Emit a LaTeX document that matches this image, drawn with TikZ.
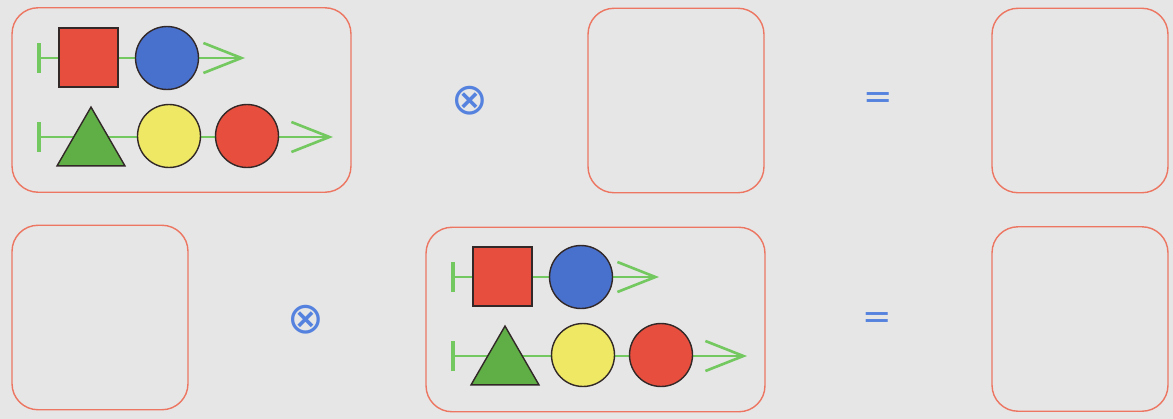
\documentclass[tikz,border=0pt]{standalone}
\usepackage{fontspec}
\usepackage{xcolor}
\usetikzlibrary{arrows.meta}
\usetikzlibrary{shapes.geometric}
\newfontfamily\symfont{DejaVu Sans}
\definecolor{bggray}{RGB}{230,230,230}
\definecolor{framered}{RGB}{236,118,98}
\definecolor{myred}{RGB}{232,78,62}
\definecolor{myblue}{RGB}{72,112,205}
\definecolor{myyellow}{RGB}{238,232,100}
\definecolor{mygreen}{RGB}{95,175,70}
\definecolor{linegreen}{RGB}{115,200,95}
\definecolor{outline}{RGB}{50,40,40}
\definecolor{symblue}{RGB}{84,130,222}

\tikzset{
  frame/.style={draw=framered, line width=0.8pt, rounded corners=0.52cm, inner sep=0pt},
  bigframe/.style={frame, minimum width=6.78cm, minimum height=3.69cm},
  smallframe/.style={frame, minimum width=3.52cm, minimum height=3.69cm},
  disc/.style={circle, draw=outline, line width=0.8pt, minimum size=1.26cm, inner sep=0pt},
  sqbox/.style={rectangle, draw=outline, line width=0.8pt, minimum size=1.18cm, inner sep=0pt},
  tri/.style={regular polygon, regular polygon sides=3, draw=outline, line width=0.8pt,
    fill=mygreen, minimum size=1.57cm, inner sep=0pt},
  chainline/.style={draw=linegreen, line width=1.5pt,
    {Bar[width=0.6cm, line width=2.3pt]}-{Straight Barb[length=0.76cm, width=0.6cm]}},
  symb/.style={text=symblue, inner sep=0pt},
  times/.style={symb, font=\symfont\fontsize{25}{30}\selectfont},
  equal/.style={symb, font=\symfont\fontsize{20}{24}\selectfont},
  % two chains of shapes, used in both product boxes
  chains/.pic={
    \coordinate (-s1) at (37,58);
    \coordinate (-t1) at (245,58);
    \coordinate (-s2) at (37,137);
    \coordinate (-t2) at (333,137);
    \draw[chainline] (-s1) -- (-t1);
    \draw[chainline] (-s2) -- (-t2);
    \node[sqbox, fill=myred] (-sq) at (88.5,57.5) {};
    \node[disc, fill=myblue] (-bc) at (167,58) {};
    \node[tri] (-tr) at (91,146.3) {};
    \node[disc, fill=myyellow] (-yc) at (169,136) {};
    \node[disc, fill=myred] (-rc) at (247,136) {};
  }
}

\begin{document}
\begin{tikzpicture}[x={(0.02cm,0)}, y={(0,-0.02cm)}]
  \fill[bggray] (0,0) rectangle (1173,419);

  % top row
  \node[bigframe] (boxA) at (181.5,100) {};
  \pic (A) at (0,0) {chains};
  \node[times] (timesA) at (470,101) {⊗};
  \node[smallframe] (boxB) at (676,100.5) {};
  \node[equal] (eqA) at (878,101) {=};
  \node[smallframe] (boxC) at (1080,100.5) {};

  % bottom row
  \node[smallframe] (boxD) at (100,317.5) {};
  \node[times] (timesB) at (306,320) {⊗};
  \node[bigframe] (boxE) at (595.5,319.5) {};
  \pic (E) at (414,219) {chains};
  \node[equal] (eqB) at (877,321) {=};
  \node[smallframe] (boxF) at (1080,319) {};
\end{tikzpicture}
\end{document}
